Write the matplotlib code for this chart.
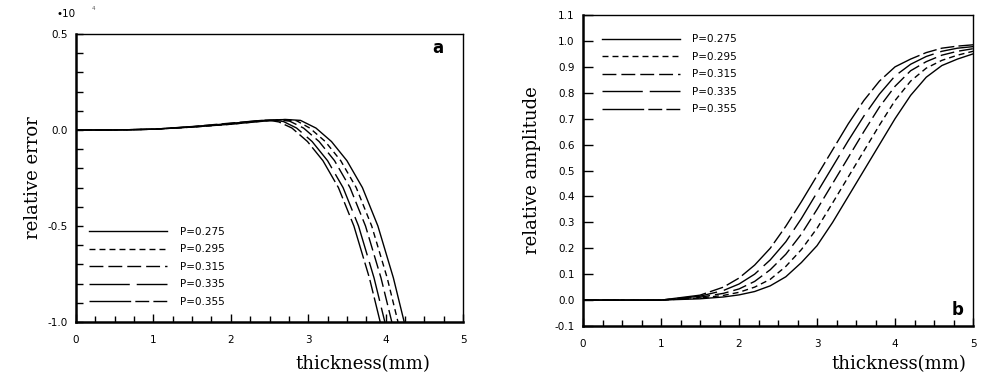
import matplotlib
matplotlib.use("Agg")
import matplotlib.pyplot as plt
from matplotlib.ticker import MultipleLocator, FuncFormatter

# -------------------- data --------------------
labels = ["P=0.275", "P=0.295", "P=0.315", "P=0.335", "P=0.355"]

# panel a: relative error vs thickness
err_x_275 = [0, 0.5, 1.0, 1.5, 2.0, 2.4, 2.7, 2.9, 3.1, 3.3, 3.5, 3.7, 3.9, 4.1, 4.24]
err_y_275 = [0, 0, 0.004, 0.015, 0.03, 0.045, 0.055, 0.05, 0.01, -0.06, -0.16, -0.3, -0.5, -0.77, -1.0]
err_x_295 = [0, 0.5, 1.0, 1.5, 2.0, 2.4, 2.65, 2.85, 3.02, 3.22, 3.42, 3.62, 3.82, 4.02, 4.16]
err_y_295 = [0, 0, 0.004, 0.015, 0.03, 0.046, 0.054, 0.048, 0.01, -0.06, -0.16, -0.3, -0.5, -0.77, -1.0]
err_x_315 = [0, 0.5, 1.0, 1.5, 2.0, 2.4, 2.6, 2.76, 2.94, 3.14, 3.34, 3.54, 3.74, 3.94, 4.08]
err_y_315 = [0, 0, 0.004, 0.016, 0.032, 0.048, 0.053, 0.046, 0.01, -0.06, -0.16, -0.3, -0.5, -0.77, -1.0]
err_x_335 = [0, 0.5, 1.0, 1.5, 2.0, 2.4, 2.55, 2.68, 2.85, 3.05, 3.25, 3.45, 3.65, 3.85, 3.99]
err_y_335 = [0, 0, 0.004, 0.017, 0.034, 0.05, 0.052, 0.044, 0.01, -0.06, -0.16, -0.3, -0.5, -0.77, -1.0]
err_x_355 = [0, 0.5, 1.0, 1.5, 2.0, 2.4, 2.5, 2.62, 2.79, 2.99, 3.19, 3.39, 3.59, 3.79, 3.93]
err_y_355 = [0, 0, 0.004, 0.018, 0.036, 0.05, 0.05, 0.042, 0.01, -0.06, -0.16, -0.3, -0.5, -0.77, -1.0]

# panel b: relative amplitude vs thickness
amp_x = [0, 1.0, 1.5, 1.8, 2.0, 2.2, 2.4, 2.6, 2.8, 3.0, 3.2, 3.4, 3.6, 3.8, 4.0, 4.2, 4.4, 4.6, 4.8, 5.0]
amp_275 = [0, 0, 0.005, 0.012, 0.02, 0.033, 0.055, 0.09, 0.145, 0.21, 0.30, 0.40, 0.50, 0.60, 0.70, 0.79, 0.86, 0.905, 0.93, 0.95]
amp_295 = [0, 0, 0.008, 0.018, 0.03, 0.05, 0.08, 0.13, 0.195, 0.277, 0.375, 0.475, 0.575, 0.675, 0.77, 0.845, 0.895, 0.925, 0.945, 0.96]
amp_315 = [0, 0, 0.011, 0.026, 0.043, 0.072, 0.117, 0.177, 0.255, 0.35, 0.45, 0.55, 0.65, 0.745, 0.825, 0.885, 0.92, 0.945, 0.96, 0.97]
amp_335 = [0, 0, 0.015, 0.037, 0.062, 0.1, 0.155, 0.225, 0.315, 0.415, 0.515, 0.615, 0.71, 0.795, 0.865, 0.91, 0.94, 0.96, 0.972, 0.978]
amp_355 = [0, 0, 0.019, 0.05, 0.085, 0.135, 0.2, 0.285, 0.38, 0.48, 0.58, 0.68, 0.77, 0.845, 0.9, 0.93, 0.955, 0.972, 0.98, 0.985]

err_series = [(err_x_275, err_y_275), (err_x_295, err_y_295), (err_x_315, err_y_315),
              (err_x_335, err_y_335), (err_x_355, err_y_355)]
amp_series = [amp_275, amp_295, amp_315, amp_335, amp_355]

# dash patterns in points (unscaled)
dashes = [None, (4.3, 2.9), (10, 3.6), (29, 5), (30, 3, 10, 3, 10, 3)]

plt.rcParams["lines.scale_dashes"] = False
serif = "DejaVu Serif"

fig = plt.figure(figsize=(9.81, 3.8), dpi=100)
ax1 = fig.add_axes([0.0775, 0.1526, 0.3945, 0.758])
ax2 = fig.add_axes([0.5943, 0.1421, 0.3976, 0.8184])


def draw_line(ax, x, y, d, label):
    line, = ax.plot(x, y, color="black", lw=1.0, label=label)
    if d is not None:
        line.set_dashes(d)
    return line


for (x, y), d, lab in zip(err_series, dashes, labels):
    draw_line(ax1, x, y, d, lab)
for y, d, lab in zip(amp_series, dashes, labels):
    draw_line(ax2, amp_x, y, d, lab)

for ax in (ax1, ax2):
    ax.set_xlim(0, 5)
    ax.spines["left"].set_linewidth(1.8)
    ax.spines["bottom"].set_linewidth(1.8)
    ax.spines["top"].set_linewidth(1.0)
    ax.spines["right"].set_linewidth(1.0)
    ax.xaxis.set_major_locator(MultipleLocator(1))
    ax.xaxis.set_minor_locator(MultipleLocator(0.25))
    ax.tick_params(which="both", direction="in", top=False, right=False,
                   width=1.0, labelsize=7.5, pad=9)
    ax.tick_params(axis="x", which="major", length=6)
    ax.tick_params(axis="x", which="minor", length=4)
    for lab in ax.get_xticklabels() + ax.get_yticklabels():
        lab.set_family("DejaVu Sans")

# panel a
ax1.set_ylim(-1.0, 0.5)
ax1.yaxis.set_major_locator(MultipleLocator(0.1))
ax1.yaxis.set_major_formatter(FuncFormatter(
    lambda v, p: ("%.1f" % v).replace("-0.0", "0.0") if abs(v * 2 - round(v * 2)) < 1e-6 else ""))
ax1.tick_params(axis="y", length=5, pad=6)
ax1.set_ylabel("relative error", family=serif, fontsize=13, labelpad=4)
ax1.set_xlabel("thickness(mm)", family=serif, fontsize=13)
ax1.xaxis.set_label_coords(0.74, -0.115)
ax1.text(0.95, 0.95, "a", transform=ax1.transAxes, fontsize=12, fontweight="bold",
         ha="right", va="center", family="DejaVu Sans")
fig.text(0.058, 0.963, "•10", fontsize=7.5, family="DejaVu Sans", va="center")
fig.text(0.093, 0.978, "4", fontsize=4, family="DejaVu Sans", va="center", color="#555555")
ax1.legend(loc="lower left", bbox_to_anchor=(0.02, 0.035), frameon=False, fontsize=7.5,
           handlelength=7.5, handletextpad=1.2, labelspacing=0.72, borderpad=0)

# panel b
ax2.set_ylim(-0.1, 1.1)
ax2.yaxis.set_major_locator(MultipleLocator(0.1))
ax2.yaxis.set_major_formatter(FuncFormatter(lambda v, p: ("%.1f" % v).replace("-0.0", "0.0")))
ax2.tick_params(axis="y", length=7, pad=6)
ax2.set_ylabel("relative amplitude", family=serif, fontsize=13, labelpad=10)
ax2.set_xlabel("thickness(mm)", family=serif, fontsize=13)
ax2.xaxis.set_label_coords(0.81, -0.095)
ax2.text(0.975, 0.05, "b", transform=ax2.transAxes, fontsize=12, fontweight="bold",
         ha="right", va="center", family="DejaVu Sans")
ax2.legend(loc="upper left", bbox_to_anchor=(0.035, 0.955), frameon=False, fontsize=7.5,
           handlelength=7.5, handletextpad=1.2, labelspacing=0.72, borderpad=0)

plt.savefig("out.png", dpi=100)
